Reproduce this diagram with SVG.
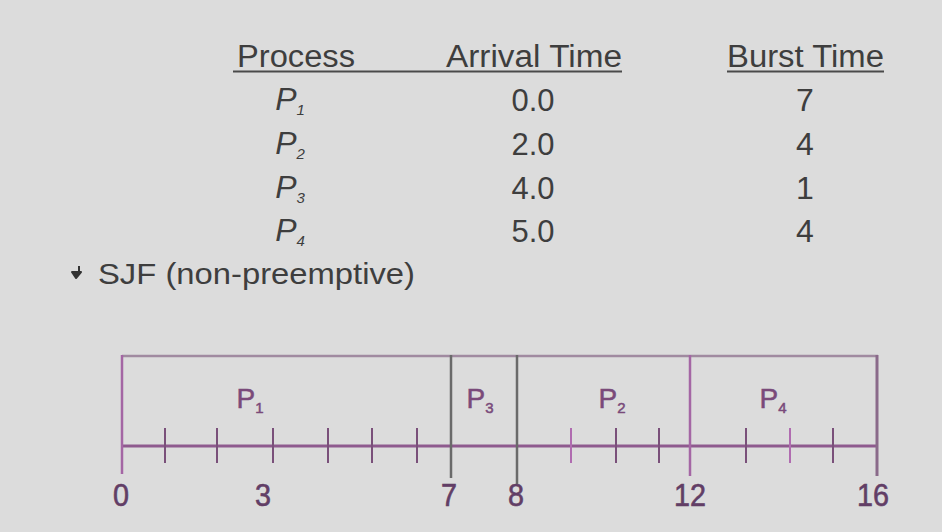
<svg xmlns="http://www.w3.org/2000/svg" width="942" height="532" viewBox="0 0 942 532">
<style>
text{font-family:"Liberation Sans",Arial,sans-serif;fill:#3e3e3e}
.h{font-size:31px}
.c{font-size:32px;text-anchor:middle}
.pi{font-style:italic}
.sub{font-size:15px}
.g{font-size:28px;fill:#7a4a7a;text-anchor:middle;stroke:#7a4a7a;stroke-width:0.5}
.gs{font-size:15px;fill:#7a4a7a}
.n{font-size:31px;fill:#623e66;text-anchor:middle;stroke:#623e66;stroke-width:0.6}
.ax{stroke:#8e5a8e;stroke-width:3;fill:none}
.tk{stroke:#7a507a;stroke-width:2}
.tp{stroke:#b06cb0;stroke-width:2}
.gl{stroke:#6a6a6a;stroke-width:2.5}
.pl{stroke:#a466a4;stroke-width:2.5}
</style>
<rect width="942" height="532" fill="#dcdcdc"/>
<g id="table">
<text class="h" x="237" y="67" textLength="118" lengthAdjust="spacingAndGlyphs">Process</text>
<text class="h" x="446" y="67" textLength="176" lengthAdjust="spacingAndGlyphs">Arrival Time</text>
<text class="h" x="727" y="67" textLength="157" lengthAdjust="spacingAndGlyphs">Burst Time</text>
<line x1="233" y1="71.5" x2="622" y2="71.5" stroke="#4a4a4a" stroke-width="2"/>
<line x1="727" y1="71.5" x2="884" y2="71.5" stroke="#4a4a4a" stroke-width="2"/>
<text class="c pi" x="290" y="110">P<tspan class="sub" dy="5">1</tspan></text>
<text class="c pi" x="290" y="154">P<tspan class="sub" dy="5">2</tspan></text>
<text class="c pi" x="290" y="198">P<tspan class="sub" dy="5">3</tspan></text>
<text class="c pi" x="290" y="241">P<tspan class="sub" dy="5">4</tspan></text>
<text class="c" x="533" y="111" textLength="43" lengthAdjust="spacingAndGlyphs">0.0</text>
<text class="c" x="533" y="155" textLength="43" lengthAdjust="spacingAndGlyphs">2.0</text>
<text class="c" x="533" y="199" textLength="43" lengthAdjust="spacingAndGlyphs">4.0</text>
<text class="c" x="533" y="242" textLength="43" lengthAdjust="spacingAndGlyphs">5.0</text>
<text class="c" x="805" y="111">7</text>
<text class="c" x="805" y="155">4</text>
<text class="c" x="805" y="199">1</text>
<text class="c" x="805" y="242">4</text>
</g>
<g id="bullet">
<path d="M79 266 L79 272 M72 272 L81 272 L76 278 Z" fill="#333" stroke="#333" stroke-width="2" stroke-linejoin="round"/>
<text x="98" y="284" font-size="30" textLength="317" lengthAdjust="spacingAndGlyphs">SJF (non-preemptive)</text>
</g>
<g id="gantt">
<line x1="122" y1="356" x2="878" y2="356" stroke="#a08aa0" stroke-width="2.5"/>
<line class="ax" x1="122" y1="446" x2="878" y2="446"/>
<line class="pl" x1="122" y1="355" x2="122" y2="474"/>
<line class="gl" x1="451" y1="355" x2="451" y2="478"/>
<line class="gl" x1="517" y1="355" x2="517" y2="484" stroke-width="2"/>
<line class="pl" x1="690" y1="355" x2="690" y2="476"/>
<line x1="877" y1="355" x2="877" y2="476" stroke="#8a6a8a" stroke-width="3"/>
<g class="tk">
<line x1="165" y1="428" x2="165" y2="463"/>
<line x1="217" y1="428" x2="217" y2="463"/>
<line x1="273" y1="428" x2="273" y2="463"/>
<line x1="328" y1="428" x2="328" y2="463"/>
<line x1="372" y1="428" x2="372" y2="463"/>
<line x1="417" y1="428" x2="417" y2="463"/>
<line x1="616" y1="428" x2="616" y2="463"/>
<line x1="659" y1="428" x2="659" y2="463"/>
<line x1="746" y1="428" x2="746" y2="463"/>
<line x1="833" y1="428" x2="833" y2="463"/>
</g>
<line class="tp" x1="571" y1="428" x2="571" y2="463"/>
<line class="tp" x1="790" y1="428" x2="790" y2="463"/>
<text class="g" x="250" y="408">P<tspan class="gs" dy="5">1</tspan></text>
<text class="g" x="480" y="408">P<tspan class="gs" dy="5">3</tspan></text>
<text class="g" x="612" y="408">P<tspan class="gs" dy="5">2</tspan></text>
<text class="g" x="773" y="408">P<tspan class="gs" dy="5">4</tspan></text>
<text class="n" x="121" y="506" textLength="16" lengthAdjust="spacingAndGlyphs">0</text>
<text class="n" x="263" y="506" textLength="16" lengthAdjust="spacingAndGlyphs">3</text>
<text class="n" x="449" y="506" textLength="16" lengthAdjust="spacingAndGlyphs">7</text>
<text class="n" x="516" y="506" textLength="16" lengthAdjust="spacingAndGlyphs">8</text>
<text class="n" x="690" y="506" textLength="32" lengthAdjust="spacingAndGlyphs">12</text>
<text class="n" x="873" y="506" textLength="32" lengthAdjust="spacingAndGlyphs">16</text>
</g>
</svg>
